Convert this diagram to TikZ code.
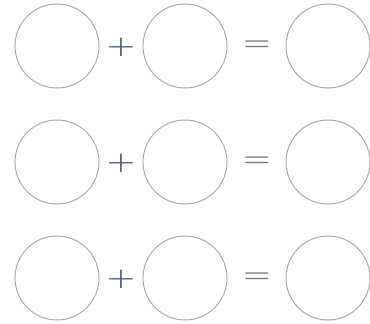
\documentclass[tikz,border=0pt]{standalone}
\begin{document}
\begin{tikzpicture}[x=1pt,y=-1pt,
  ring/.style={circle,draw=ringgray,line width=1pt,minimum size=84pt,inner sep=0pt},
  plussign/.style={text=plusblue,font=\fontsize{31}{31}\selectfont\boldmath,xscale=1.3,inner sep=0pt},
  eqsign/.style={text=eqgray,font=\fontsize{34}{34}\selectfont\boldmath,xscale=1.25,inner sep=0pt}]
\definecolor{ringgray}{HTML}{ABABAB}
\definecolor{plusblue}{HTML}{55617F}
\definecolor{eqgray}{HTML}{767C86}
\useasboundingbox[fill=white] (0,0) rectangle (370,324);
\foreach \r/\y in {1/46,2/162,3/278}{
  \node[ring] (a\r) at (57,\y) {};
  \node[ring] (b\r) at (185,\y) {};
  \node[ring] (c\r) at (328,\y) {};
  \node[plussign] (p\r) at (121,\y+1) {$+$};
  \node[eqsign] (e\r) at (257,\y) {$=$};
}
\end{tikzpicture}
\end{document}
